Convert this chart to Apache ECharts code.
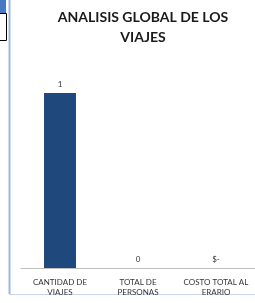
<!DOCTYPE html>
<html>
<head>
<meta charset="utf-8">
<script src="https://cdn.jsdelivr.net/npm/echarts@6/dist/echarts.min.js"></script>
<style>
html, body { margin: 0; padding: 0; background: #fff; }
#bar { width: 255px; height: 303px; }
</style>
</head>
<body>
<div id="bar"></div>
<script>
// datos del grafico
var categorias = ['CANTIDAD DE\nVIAJES', 'TOTAL DE\nPERSONAS', 'COSTO TOTAL AL\nERARIO'];
var valores = [1, 0, 0];
var etiquetas = ['1', '0', '$-'];

var myChart = echarts.init(document.getElementById('bar'));

var option = {
    animation: false,
    title: {
        text: 'ANALISIS GLOBAL DE LOS\nVIAJES',
        left: 138,
        top: 2,
        textAlign: 'center',
        textStyle: {
            fontFamily: 'Lato',
            fontWeight: 'bold',
            fontSize: 14,
            lineHeight: 20,
            color: '#1a1a1a'
        }
    },
    grid: { left: 21, right: 0, top: 93, bottom: 35 },
    xAxis: {
        type: 'category',
        data: categorias,
        axisLine: { lineStyle: { color: '#bfbfbf' } },
        axisTick: { show: false },
        axisLabel: {
            interval: 0,
            margin: 9,
            fontFamily: 'Lato',
            fontSize: 8,
            lineHeight: 10,
            color: '#333333'
        }
    },
    yAxis: {
        type: 'value',
        min: 0,
        max: 1,
        show: false,
        splitLine: { show: false }
    },
    series: [{
        type: 'bar',
        data: valores,
        barWidth: 32,
        itemStyle: { color: '#1F497D' },
        label: {
            show: true,
            position: 'top',
            distance: 5,
            fontFamily: 'Lato',
            fontSize: 8,
            color: '#333333',
            formatter: function (p) { return etiquetas[p.dataIndex]; }
        }
    }],
    graphic: [
        // recuadro en la esquina superior izquierda
        { type: 'rect', shape: { x: 0, y: 0, width: 6, height: 13 }, style: { fill: '#4a78c2' } },
        { type: 'polyline', shape: { points: [[0, 13.5], [6.5, 13.5], [6.5, 40.5], [0, 40.5]] }, style: { stroke: '#000', lineWidth: 1, fill: null } },
        // borde izquierdo e inferior
        { type: 'line', shape: { x1: 9.5, y1: 0, x2: 9.5, y2: 294 }, style: { stroke: '#9db9e0', lineWidth: 2 } },
        { type: 'line', shape: { x1: 9, y1: 294.5, x2: 255, y2: 294.5 }, style: { stroke: '#c6d7ee', lineWidth: 1 } }
    ]
};

myChart.setOption(option);
</script>
</body>
</html>
